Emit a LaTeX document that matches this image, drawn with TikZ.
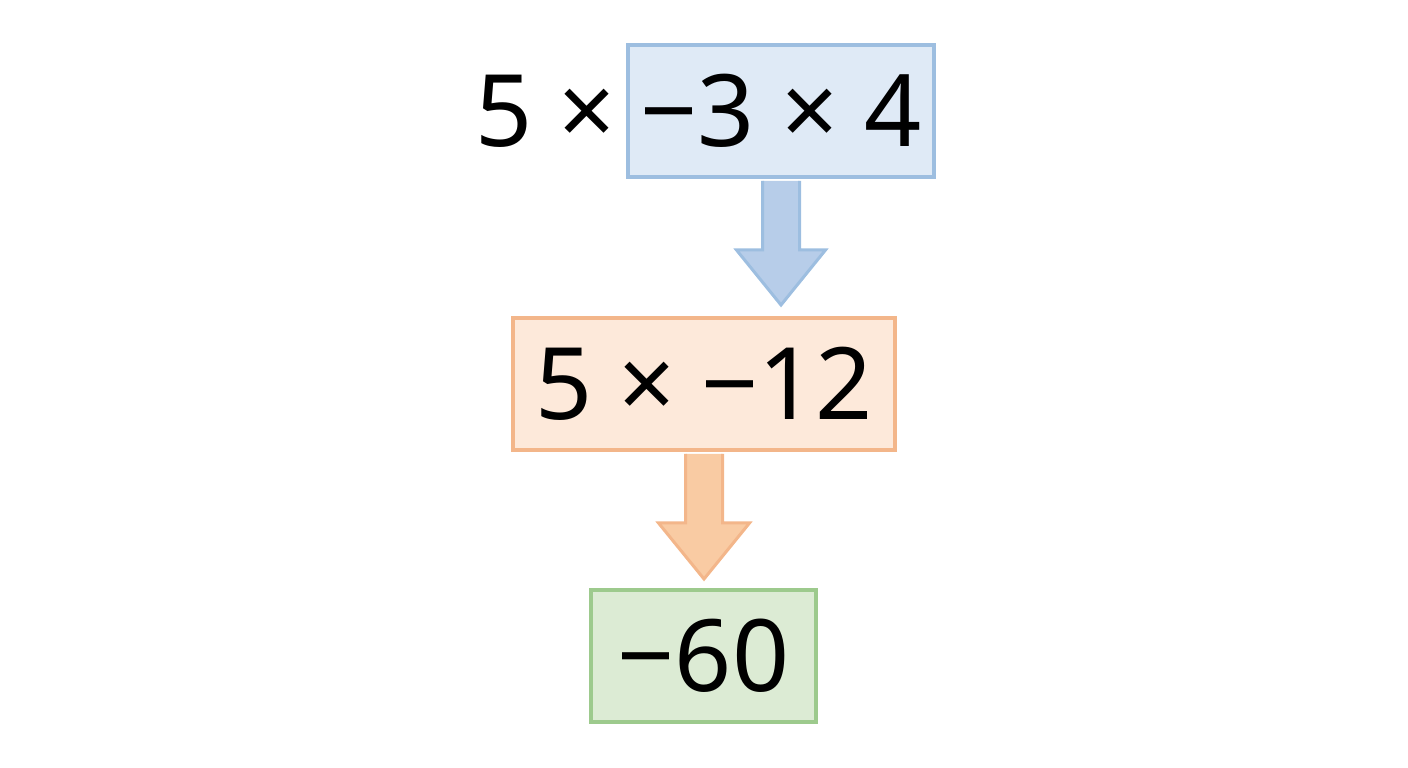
\documentclass[tikz,border=0pt]{standalone}
\usepackage{fontspec}
\setmainfont{Noto Sans}
\usetikzlibrary{calc}
\definecolor{bfill}{HTML}{DFEAF6}
\definecolor{bline}{HTML}{9DBEE0}
\definecolor{barrow}{HTML}{B7CDE9}
\definecolor{ofill}{HTML}{FDE9DA}
\definecolor{oline}{HTML}{F3B68A}
\definecolor{oarrow}{HTML}{F9CBA3}
\definecolor{gfill}{HTML}{DCEBD4}
\definecolor{gline}{HTML}{9DCA8D}
\tikzset{
  mathtext/.style={font=\fontsize{100}{110}\selectfont, text=black, inner sep=0pt},
  stepbox/.style={mathtext, draw=#1, line width=4pt, minimum height=132pt},
  blockarrow/.style={line width=3pt, line join=miter},
}
\begin{document}
\begin{tikzpicture}[x=1pt,y=1pt]
\useasboundingbox (0,0) rectangle (1408,768);
\node[stepbox=bline, fill=bfill, minimum width=306pt] (b1) at (781,657) {−3 × 4};
\node[mathtext, anchor=east] (pre) at ($(b1.west)+(-10,0)$) {5 ×};
\node[stepbox=oline, fill=ofill, minimum width=382pt] (b2) at (704,384) {5 × −12};
\node[stepbox=gline, fill=gfill, minimum width=225pt] (b3) at (703.5,112) {−60};
% arrow 1
\coordinate (a1) at ($(b1.south)+(0,-2)$);
\coordinate (t1) at ($(b1.south)+(0,-126)$);
\filldraw[blockarrow, draw=bline, fill=barrow]
  ($(a1)+(-18.5,0)$) -- ($(a1)+(-18.5,-69)$) -- ($(a1)+(-44.5,-69)$) -- (t1)
  -- ($(a1)+(44.5,-69)$) -- ($(a1)+(18.5,-69)$) -- ($(a1)+(18.5,0)$);
% arrow 2
\coordinate (a2) at ($(b2.south)+(0,-2)$);
\coordinate (t2) at ($(b2.south)+(0,-127)$);
\filldraw[blockarrow, draw=oline, fill=oarrow]
  ($(a2)+(-18.5,0)$) -- ($(a2)+(-18.5,-69)$) -- ($(a2)+(-45.5,-69)$) -- (t2)
  -- ($(a2)+(45.5,-69)$) -- ($(a2)+(18.5,-69)$) -- ($(a2)+(18.5,0)$);
\end{tikzpicture}
\end{document}
